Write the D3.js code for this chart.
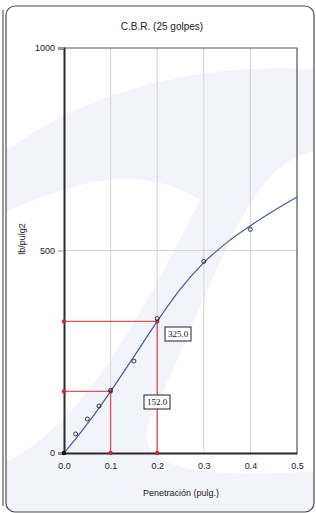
<!DOCTYPE html>
<html>
<head>
<meta charset="utf-8">
<script src="https://cdn.jsdelivr.net/npm/d3@7"></script>
<style>
  body { margin: 0; background: #ffffff; }
  svg { display: block; font-family: "Liberation Sans", Arial, sans-serif; }
</style>
</head>
<body>
<script>
// Chart size
var svgWidth = 316;
var svgHeight = 513;

// Plot area
var plot = { left: 64, right: 297, top: 48, bottom: 453 };

// Data
var penetration = [0.025, 0.05, 0.075, 0.1, 0.15, 0.2, 0.3, 0.4];
var load = [47, 84, 116, 155, 227, 332, 473, 552];

// Fitted curve
var curveX = [0, 0.025, 0.05, 0.075, 0.1, 0.15, 0.2, 0.25, 0.3, 0.35, 0.4, 0.45, 0.5];
var curveY = [0, 35, 72, 111, 152, 238, 325, 405, 470, 520, 561, 598, 632];

// Correction lines (penetration, value)
var refX = [0.1, 0.2];
var refY = [152, 325];
var refLabels = ["152.0", "325.0"];

var xTicks = [0, 0.1, 0.2, 0.3, 0.4, 0.5];
var yTicks = [0, 500, 1000];

var svg = d3.select("body").append("svg")
    .attr("width", svgWidth)
    .attr("height", svgHeight);

// Outer frame
svg.append("clipPath").attr("id", "frameClip")
  .append("rect").attr("x", 6).attr("y", 6).attr("width", 308).attr("height", 506).attr("rx", 9);

svg.append("line")
    .attr("x1", 3).attr("x2", 3).attr("y1", 10).attr("y2", 506)
    .attr("stroke", "#9a9a9a").attr("stroke-width", 2);

svg.append("rect")
    .attr("x", 6).attr("y", 6).attr("width", 308).attr("height", 506).attr("rx", 9)
    .attr("fill", "#ffffff");

// faint watermark
var wm = svg.append("g").attr("clip-path", "url(#frameClip)");
wm.append("path")
    .attr("d", "M -40 190 C 60 90, 200 60, 330 70 L 330 150 C 250 150, 230 250, 150 420 C 130 470, 200 480, 330 470 L 330 520 L -10 520 L -10 470 C 60 440, 110 380, 200 200 C 120 150, 40 200, -40 230 Z")
    .attr("fill", "#f3f3fb");

svg.append("rect")
    .attr("x", 6).attr("y", 6).attr("width", 308).attr("height", 506).attr("rx", 9)
    .attr("fill", "none").attr("stroke", "#4a4a4a").attr("stroke-width", 1.2);

var xScale = d3.scaleLinear().domain([0, 0.5]).range([plot.left, plot.right]);
var yScale = d3.scaleLinear().domain([0, 1000]).range([plot.bottom, plot.top]);

// Grid
var grid = svg.append("g");
grid.selectAll(".vgrid")
    .data(xTicks.filter(d => d > 0 && d < 0.5))
    .enter().append("line")
    .attr("x1", d => xScale(d)).attr("x2", d => xScale(d))
    .attr("y1", plot.top).attr("y2", plot.bottom)
    .attr("stroke", "#d2d2d8").attr("stroke-width", 1);
grid.append("line")
    .attr("x1", plot.left).attr("x2", plot.right)
    .attr("y1", yScale(500)).attr("y2", yScale(500))
    .attr("stroke", "#d2d2d8").attr("stroke-width", 1);

// Plot border (top and right)
svg.append("path")
    .attr("d", `M${plot.left},${plot.top} H${plot.right} V${plot.bottom}`)
    .attr("fill", "none").attr("stroke", "#555").attr("stroke-width", 1.2);

// Axes
var yAxis = d3.axisLeft(yScale).tickValues(yTicks).tickSize(6).tickPadding(3).tickFormat(d3.format("d"));
var xAxis = d3.axisBottom(xScale).tickValues(xTicks).tickSize(0).tickPadding(10).tickFormat(d3.format(".1f"));

var gy = svg.append("g").attr("transform", `translate(${plot.left},0)`).call(yAxis);
var gx = svg.append("g").attr("transform", `translate(0,${plot.bottom})`).call(xAxis);
[gx, gy].forEach(function (g) {
    g.select(".domain").attr("stroke", "#2a2a2a").attr("stroke-width", 2);
    g.selectAll(".tick line").attr("stroke", "#999");
    g.selectAll("text").attr("font-size", 9).attr("fill", "#222")
        .attr("font-family", "'Liberation Sans', Arial, sans-serif");
});

// Red reference lines
var red = "#dc5555";
refX.forEach(function (px, i) {
    svg.append("path")
        .attr("d", `M${xScale(0)},${yScale(refY[i])} H${xScale(px)} V${yScale(0)}`)
        .attr("fill", "none").attr("stroke", red).attr("stroke-width", 1.3);
    [[0, refY[i]], [px, refY[i]], [px, 0]].forEach(function (p) {
        svg.append("circle")
            .attr("cx", xScale(p[0])).attr("cy", yScale(p[1])).attr("r", 2.2)
            .attr("fill", "#cc2a3a");
    });
});

// Curve
var line = d3.line()
    .x((d, i) => xScale(curveX[i]))
    .y(d => yScale(d))
    .curve(d3.curveMonotoneX);
svg.append("path")
    .datum(curveY)
    .attr("d", line)
    .attr("fill", "none").attr("stroke", "#3a5ca8").attr("stroke-width", 1.2);

// Data points
svg.selectAll(".pt")
    .data(load).enter().append("circle")
    .attr("cx", (d, i) => xScale(penetration[i]))
    .attr("cy", d => yScale(d))
    .attr("r", 2)
    .attr("fill", "none").attr("stroke", "#222").attr("stroke-width", 0.9);

// Origin marker
svg.append("circle")
    .attr("cx", xScale(0)).attr("cy", yScale(0)).attr("r", 2.3).attr("fill", "#111");

// Value labels
var labelPos = [[157, 402], [178, 334]];
refLabels.forEach(function (t, i) {
    var g = svg.append("g").attr("transform", `translate(${labelPos[i][0]},${labelPos[i][1]})`);
    g.append("rect").attr("x", -13).attr("y", -7).attr("width", 26).attr("height", 14)
        .attr("fill", "#fff").attr("stroke", "#222").attr("stroke-width", 1);
    g.append("text").text(t)
        .attr("text-anchor", "middle").attr("dy", "0.35em")
        .attr("font-family", "'Liberation Serif', 'Times New Roman', serif")
        .attr("font-size", 9).attr("fill", "#111");
});

// Titles
svg.append("text").text("C.B.R. (25 golpes)")
    .attr("x", 162).attr("y", 30).attr("text-anchor", "middle")
    .attr("font-size", 10).attr("fill", "#222");
svg.append("text").text("Penetración (pulg.)")
    .attr("x", 181).attr("y", 496).attr("text-anchor", "middle")
    .attr("font-size", 9).attr("fill", "#222");
svg.append("text").text("lb/pulg2")
    .attr("transform", "translate(25,239) rotate(-90)").attr("text-anchor", "middle")
    .attr("font-size", 9).attr("fill", "#222");
</script>
</body>
</html>
